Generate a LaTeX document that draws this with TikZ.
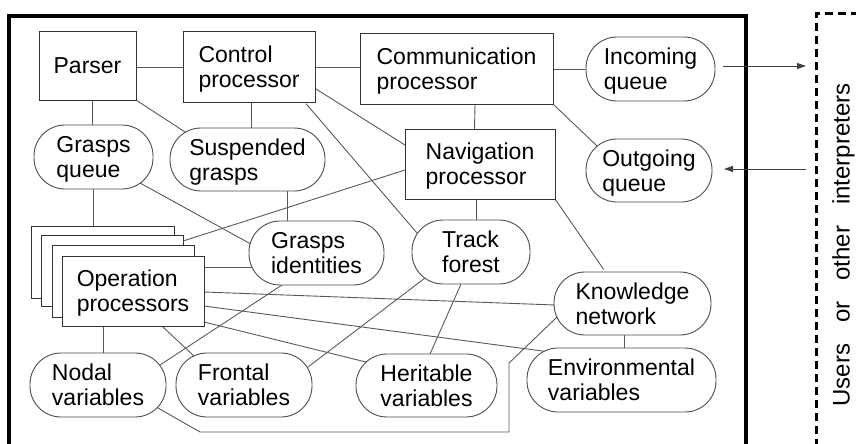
\documentclass[tikz,border=0pt]{standalone}
\usepackage{fontspec}
\setmainfont{Liberation Sans}
\usetikzlibrary{arrows.meta}
\pgfdeclarelayer{background}
\pgfsetlayers{background,main}
\begin{document}
\begin{tikzpicture}[x=1pt,y=-1pt,
 every node/.style={font=\fontsize{23pt}{25pt}\selectfont, align=left, inner sep=0pt, text depth=0pt},
 box/.style={draw=black!80, line width=1pt, fill=white},
 pill/.style={draw=black!70, line width=0.9pt, fill=white, rounded corners=31pt},
 link/.style={draw=black!65, line width=0.9pt, shorten <=-3pt, shorten >=-3pt},
 arrow/.style={draw=black!75, line width=0.9pt, -{Triangle[length=9pt,width=6pt]}},
 frame/.style={line width=3.6pt},
 dashframe/.style={line width=3.4pt, dash pattern=on 8pt off 5pt}]
\useasboundingbox (0,0) rectangle (856,444);

% frames
\draw[frame] (9,447) -- (9,16) -- (746,16) -- (746,447);
\draw[dashframe] (816.5,447) -- (816.5,13.5) -- (859,13.5);

% nodes
\node[box, minimum width=97pt, minimum height=68pt] (parser) at (87.5,66) {Parser};
\node[box, minimum width=132pt, minimum height=70pt] (control) at (249,67) {Control\\processor};
\node[box, minimum width=193pt, minimum height=70pt] (comm) at (456.5,69) {Communication\\processor};
\node[pill, minimum width=129pt, minimum height=64pt] (inq) at (650.5,69) {Incoming\\queue};
\node[box, minimum width=150pt, minimum height=70pt] (nav) at (480,164) {Navigation\\processor};
\node[pill, minimum width=126pt, minimum height=63pt] (outq) at (649,170.5) {Outgoing\\queue};
\node[pill, minimum width=119pt, minimum height=64pt] (gq) at (93.5,157) {Grasps\\queue};
\node[pill, minimum width=155pt, minimum height=63pt] (sg) at (247.5,159.5) {Suspended\\grasps};
\node[box, minimum width=143pt, minimum height=72pt] (op1) at (102.5,262) {};
\node[box, minimum width=142pt, minimum height=71pt] (op2) at (112,270.5) {};
\node[box, minimum width=142pt, minimum height=72pt] (op3) at (123,281) {};
\node[box, minimum width=142pt, minimum height=70pt] (op4) at (133,291) {Operation\\processors};
\node[pill, minimum width=135pt, minimum height=64pt] (gi) at (316.5,253) {Grasps\\identities};
\node[pill, minimum width=118pt, minimum height=64pt] (tf) at (471,252) {Track\\forest};
\node[pill, minimum width=157pt, minimum height=63pt] (kn) at (632.5,303.5) {Knowledge\\network};
\node[pill, minimum width=189pt, minimum height=64pt] (ev) at (621.5,380) {Environmental\\variables};
\node[pill, minimum width=136pt, minimum height=64pt] (nv) at (98,385) {Nodal\\variables};
\node[pill, minimum width=136pt, minimum height=64pt] (fv) at (244,385) {Frontal\\variables};
\node[pill, minimum width=141pt, minimum height=63pt] (hv) at (426.5,385.5) {Heritable\\variables};

\node[rotate=90, align=center, font=\fontsize{24pt}{26pt}\selectfont] (users) at (841,245)
  {{\spaceskip=21pt Users or other interpreters}};

% connectors
\begin{pgfonlayer}{background}
\path[link] ([shift={(48.5,1.7)}]parser.center) -- ([shift={(-66,0.7)}]control.center);
\path[link] ([shift={(66,0.7)}]control.center) -- ([shift={(-96.5,-1.3)}]comm.center);
\path[link] ([shift={(96.5,0)}]comm.center) -- ([shift={(-64.5,0)}]inq.center);
\path[link] ([shift={(4.5,34)}]parser.center) -- ([shift={(-1.5,-32)}]gq.center);
\path[link] ([shift={(48.5,34)}]parser.center) -- ([shift={(-62.5,-27.5)}]sg.center);
\path[link] ([shift={(2,35)}]control.center) -- ([shift={(3.5,-31.5)}]sg.center);
\path[link] ([shift={(67,22)}]control.center) -- ([shift={(-75,-19)}]nav.center);
\path[link] ([shift={(59,39)}]control.center) -- ([shift={(-54,-19)}]tf.center);
\path[link] ([shift={(18.5,35)}]comm.center) -- ([shift={(-5.5,-35)}]nav.center);
\path[link] ([shift={(96.5,35)}]comm.center) -- ([shift={(-53,-25.5)}]outq.center);
\path[link] ([shift={(-75,6)}]nav.center) -- ([shift={(71,-29.5)}]op2.center);
\path[link] ([shift={(-4,35)}]nav.center) -- ([shift={(5,-32)}]tf.center);
\path[link] ([shift={(75,35)}]nav.center) -- ([shift={(-30.5,-36.5)}]kn.center);
\path[link] ([shift={(46.5,26)}]gq.center) -- ([shift={(-67.5,-10)}]gi.center);
\path[link] ([shift={(-0.5,32)}]gq.center) -- ([shift={(-9.5,-36)}]op1.center);
\path[link] ([shift={(39.5,31.5)}]sg.center) -- ([shift={(-29.5,-32)}]gi.center);
\path[link] ([shift={(71,-24)}]op4.center) -- ([shift={(-64.5,14)}]gi.center);
\path[link] ([shift={(-34.5,32)}]gi.center) -- ([shift={(62,-20)}]nv.center);
\path[link] ([shift={(-46,26)}]tf.center) -- ([shift={(64,-18)}]fv.center);
\path[link] ([shift={(-10,32)}]tf.center) -- ([shift={(3.5,-31.5)}]hv.center);
\path[link] ([shift={(71,1)}]op4.center) -- ([shift={(-77.5,1.5)}]kn.center);
\path[link] ([shift={(71,15)}]op4.center) -- ([shift={(-71.5,-28)}]ev.center);
\path[link] ([shift={(71,31)}]op4.center) -- ([shift={(-56.5,-22.5)}]hv.center);
\path[link] ([shift={(-30,35)}]op4.center) -- ([shift={(5,-32)}]nv.center);
\path[link] ([shift={(30,36)}]op4.center) -- ([shift={(-49,-28)}]fv.center);
\path[link] ([shift={(-8.5,31.5)}]kn.center) -- ([shift={(2.5,-32)}]ev.center);
\path[link] ([shift={(60,23)}]nv.center) -- ++(42,24) -- ++(309,0) -- ++(0,-69)
  -- ([shift={(-77.5,15.5)}]kn.center);
\end{pgfonlayer}

% arrows to/from users
\coordinate (uin) at (806,66);
\coordinate (uout) at (806,169);
\draw[arrow] ([shift={(72.5,-3)}]inq.center) -- (uin);
\draw[arrow] (uout) -- ([shift={(75,-1.5)}]outq.center);
\end{tikzpicture}
\end{document}
